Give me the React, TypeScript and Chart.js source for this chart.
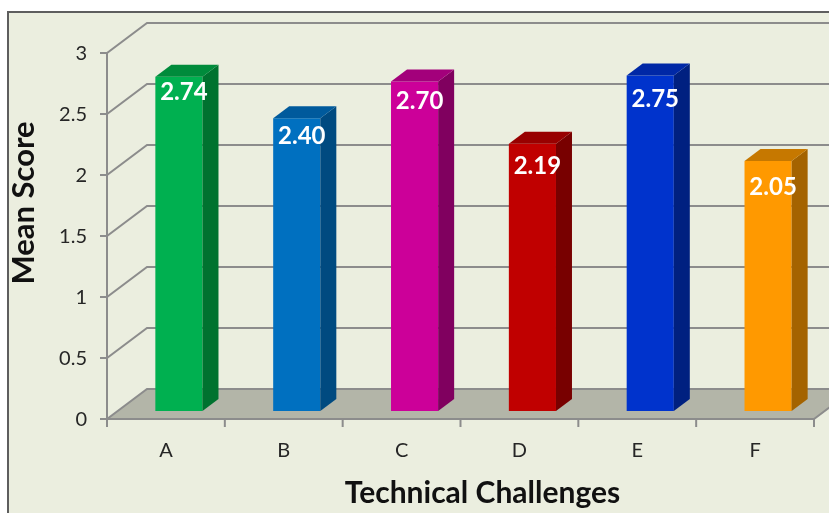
import { useEffect, useRef } from "react";
import { Chart, registerables } from "chart.js";

Chart.register(...registerables);

// ---- data ----
const categories = ["A", "B", "C", "D", "E", "F"];
const meanScores = [2.74, 2.4, 2.7, 2.19, 2.75, 2.05];
const yTickValues = [0, 0.5, 1, 1.5, 2, 2.5, 3];
const yTickLabels = ["0", "0.5", "1", "1.5", "2", "2.5", "3"];
const xAxisTitle = "Technical Challenges";
const yAxisTitle = "Mean Score";

// ---- bar colours (front / top / side faces) ----
const frontColors = ["#00B050", "#0070C0", "#CC0099", "#C00000", "#0033CC", "#FF9900"];
const topColors = ["#008B3B", "#005A9C", "#A3007B", "#980000", "#0028A6", "#C67800"];
const sideColors = ["#00722F", "#004A80", "#80005F", "#780000", "#002080", "#A46300"];

// ---- 3D projection settings ----
const WALL_DEPTH = { x: 40, y: -30 }; // offset from front plane to back wall
const BAR_SHIFT = { x: 13, y: -8 }; // bar front face sits a bit inside the floor
const BAR_SIDE = { x: 16, y: -12 }; // visible depth of each bar

const BG = "#EBEEDF";
const GRID = "#8C8C8C";
const FLOOR = "#B3B5A8";
const FONT = "Lato, 'Noto Sans', sans-serif";

const threeD = {
  id: "threeD",
  beforeDraw(chart: any) {
    const { ctx, width, height } = chart;
    ctx.save();
    ctx.fillStyle = "#FFFFFF";
    ctx.fillRect(0, 0, width, height);
    ctx.fillStyle = BG;
    ctx.fillRect(8, 12, width - 8, height - 12);
    ctx.strokeStyle = "#5E5E5E";
    ctx.lineWidth = 2;
    ctx.beginPath();
    ctx.moveTo(width, 12);
    ctx.lineTo(8, 12);
    ctx.lineTo(8, height);
    ctx.stroke();
    ctx.restore();
  },
  beforeDatasetsDraw(chart: any) {
    const { ctx, width, chartArea } = chart;
    const xs = chart.scales.x;
    const ys = chart.scales.y;
    const left = chartArea.left;
    const right = chartArea.right;
    const y0 = ys.getPixelForValue(0);
    const dx = WALL_DEPTH.x;
    const dy = WALL_DEPTH.y;

    ctx.save();
    // floor
    ctx.fillStyle = FLOOR;
    ctx.beginPath();
    ctx.moveTo(left, y0);
    ctx.lineTo(right, y0);
    ctx.lineTo(right + dx, y0 + dy);
    ctx.lineTo(left + dx, y0 + dy);
    ctx.closePath();
    ctx.fill();

    // side wall diagonals and back wall grid lines
    ctx.strokeStyle = GRID;
    ctx.lineWidth = 2;
    yTickValues.forEach((v) => {
      const py = ys.getPixelForValue(v);
      ctx.beginPath();
      ctx.moveTo(left - 7, py);
      ctx.lineTo(left, py);
      ctx.lineTo(left + dx, py + dy);
      ctx.lineTo(width, py + dy);
      ctx.stroke();
    });

    // front value axis
    ctx.beginPath();
    ctx.moveTo(left, ys.getPixelForValue(yTickValues[yTickValues.length - 1]));
    ctx.lineTo(left, y0 + 8);
    ctx.stroke();

    // floor front edge, right edge and category ticks
    ctx.beginPath();
    ctx.moveTo(left, y0);
    ctx.lineTo(right, y0);
    ctx.lineTo(right + dx, y0 + dy);
    ctx.stroke();
    for (let i = 0; i <= categories.length; i++) {
      const px = left + ((right - left) * i) / categories.length;
      ctx.beginPath();
      ctx.moveTo(px, y0);
      ctx.lineTo(px, y0 + 8);
      ctx.stroke();
    }

    // tick labels
    ctx.fillStyle = "#262626";
    ctx.font = `20px ${FONT}`;
    ctx.textAlign = "right";
    ctx.textBaseline = "middle";
    yTickValues.forEach((v, i) => {
      ctx.fillText(yTickLabels[i], left - 20, ys.getPixelForValue(v) + 1);
    });
    ctx.textAlign = "center";
    categories.forEach((c, i) => {
      ctx.fillText(c, xs.getPixelForValue(i), y0 + 32);
    });

    // axis titles
    ctx.fillStyle = "#111111";
    ctx.font = `bold 30px ${FONT}`;
    ctx.textBaseline = "alphabetic";
    ctx.fillText(xAxisTitle, (left + right) / 2 + 22, 503);
    ctx.save();
    ctx.translate(34, 203);
    ctx.rotate(-Math.PI / 2);
    ctx.font = `bold 31px ${FONT}`;
    ctx.fillText(yAxisTitle, 0, 0);
    ctx.restore();
    ctx.restore();

    // bars are drawn slightly behind the front plane
    ctx.save();
    ctx.translate(BAR_SHIFT.x, BAR_SHIFT.y);
  },
  afterDatasetsDraw(chart: any) {
    const { ctx } = chart;
    const meta = chart.getDatasetMeta(0);
    meta.data.forEach((el: any, i: number) => {
      const { x, y, base, width } = el.getProps(["x", "y", "base", "width"], true);
      const l = x - width / 2;
      const r = x + width / 2;
      const sx = BAR_SIDE.x;
      const sy = BAR_SIDE.y;
      // side face
      ctx.fillStyle = sideColors[i];
      ctx.beginPath();
      ctx.moveTo(r, y);
      ctx.lineTo(r + sx, y + sy);
      ctx.lineTo(r + sx, base + sy);
      ctx.lineTo(r, base);
      ctx.closePath();
      ctx.fill();
      // top face
      ctx.fillStyle = topColors[i];
      ctx.beginPath();
      ctx.moveTo(l, y);
      ctx.lineTo(l + sx, y + sy);
      ctx.lineTo(r + sx, y + sy);
      ctx.lineTo(r, y);
      ctx.closePath();
      ctx.fill();
      // value label
      ctx.fillStyle = "#FFFFFF";
      ctx.font = `bold 24px ${FONT}`;
      ctx.textAlign = "center";
      ctx.textBaseline = "middle";
      ctx.fillText(meanScores[i].toFixed(2), x + 5, y + 16 + 2 * i);
    });
    ctx.restore();
  },
};

export default function App() {
  const canvasRef = useRef<HTMLCanvasElement | null>(null);

  useEffect(() => {
    document.body.style.margin = "0";
    const canvas = canvasRef.current;
    if (!canvas) return;
    const chart = new Chart(canvas, {
      type: "bar",
      data: {
        labels: categories,
        datasets: [
          {
            data: meanScores,
            backgroundColor: frontColors,
            borderWidth: 0,
            categoryPercentage: 1,
            barPercentage: 0.4,
            clip: false as any,
          },
        ],
      },
      options: {
        responsive: false,
        animation: false,
        devicePixelRatio: 1,
        layout: { padding: { left: 107, right: 15, top: 53, bottom: 94 } },
        plugins: { legend: { display: false }, tooltip: { enabled: false } },
        scales: {
          x: { display: false, offset: true },
          y: { display: false, min: 0, max: 3 },
        },
      },
      plugins: [threeD],
    });
    return () => chart.destroy();
  }, []);

  return <canvas ref={canvasRef} width={829} height={513} style={{ display: "block" }} />;
}
